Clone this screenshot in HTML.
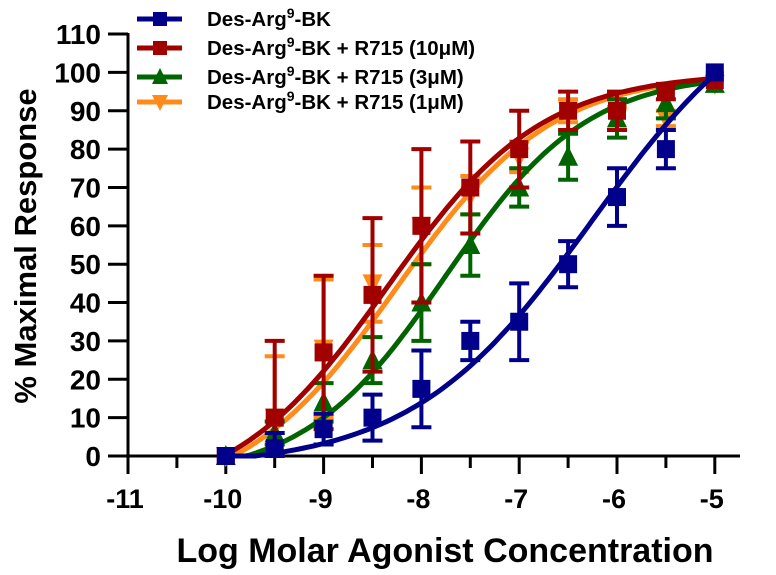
<!DOCTYPE html>
<html><head><meta charset="utf-8"><style>
body{margin:0;background:#fff}
svg text{font-family:"Liberation Sans",Arial,sans-serif;font-weight:bold;fill:#000}
</style></head><body>
<svg id="chart" width="776" height="570" xmlns="http://www.w3.org/2000/svg">
<g id="axes"></g>
<g id="plot"></g>
<g id="legend"></g>
<text transform="translate(36,246) rotate(-90)" text-anchor="middle" font-size="31">% Maximal Response</text>
<text x="445" y="562" text-anchor="middle" font-size="34">Log Molar Agonist Concentration</text>
</svg>
<script>
const xVals=[-10,-9.5,-9,-8.5,-8,-7.5,-7,-6.5,-6,-5.5,-5];
const blueY=[0,2,7,10,17.5,30,35,50,67.5,80,100];
const blueErr=[0,4,4,6,10,5,10,6,7.5,5,0];
const redY=[0,10,27,42,60,70,80,90,90,95,98];
const redErr=[0,20,20,20,20,12,10,5,5,2,0];
const greenY=[0,6,14,25,40,55,70,78,88,92,97];
const greenErr=[0,3,5,6,10,8,5,6,5,4,0];
const orangeY=[0,10,28,45,60,68,78,90,88,88,97];
const orangeErr=[0,16,18,10,10,5,4,3,3,2,0];
const fitEC50=[-6.25,-8.35,-7.75,-8.25];
const fitHill=[0.47,0.55,0.6,0.55];
const fitTop=[126,100,100,100];
const fitBottom=[-3,-12,-6,-12];
const names=["Des-Arg9-BK","Des-Arg9-BK + R715 (10\u03bcM)","Des-Arg9-BK + R715 (3\u03bcM)","Des-Arg9-BK + R715 (1\u03bcM)"];
const colors=["#00008b","#a00000","#006400","#ff8c1a"];
const xTicks=[-11,-10,-9,-8,-7,-6,-5];
const yTicks=[0,10,20,30,40,50,60,70,80,90,100,110];

const NS="http://www.w3.org/2000/svg";
const X=v=>128+(v+11)*97.8;
const Y=v=>456-v*3.836;
function mk(tag,attrs,parent){const e=document.createElementNS(NS,tag);for(const k in attrs)e.setAttribute(k,attrs[k]);parent.appendChild(e);return e;}
const axes=document.getElementById('axes'),plot=document.getElementById('plot'),leg=document.getElementById('legend');
let a=mk('line',{x1:X(-11),x2:740,y1:456,y2:456,stroke:'#000','stroke-width':3},axes);

a=mk('line',{x1:X(-11),x2:X(-11),y1:Y(110)-1,y2:457.5,stroke:'#000','stroke-width':3},axes);

for(let v=-11;v<=-5;v+=0.5){const t=mk('line',{x1:X(v),x2:X(v),y1:456,y2:Number.isInteger(v)?474:468,stroke:'#000','stroke-width':3},axes);
}
xTicks.forEach(v=>{const t=mk('text',{x:X(v)-3,y:508,'text-anchor':'middle','font-size':27},axes);t.textContent=String(v);
});
yTicks.forEach(v=>{const t=mk('line',{x1:X(-11)-20,x2:X(-11),y1:Y(v),y2:Y(v),stroke:'#000','stroke-width':3},axes);

const l=mk('text',{x:101,y:Y(v)+10,'text-anchor':'end','font-size':28},axes);l.textContent=v;
});
const series=[blueY,redY,greenY,orangeY],errs=[blueErr,redErr,greenErr,orangeErr];
function marker(type,cx,cy,c,parent,s){
 let e;
 if(type===0||type===1)e=mk('rect',{x:cx-s,y:cy-s,width:2*s,height:2*s,fill:c},parent);
 else if(type===2)e=mk('polygon',{points:`${cx},${cy-s-2} ${cx-s-1},${cy+s} ${cx+s+1},${cy+s}`,fill:c},parent);
 else e=mk('polygon',{points:`${cx},${cy+s+2} ${cx-s-1},${cy-s} ${cx+s+1},${cy-s}`,fill:c},parent);
 return e;}
const order=[3,2,1,0];
order.forEach(i=>{
 const g=mk('g',{},plot);
 let d='';for(let k=0;k<=100;k++){const x=-10+k*0.05;let y=fitBottom[i]+(fitTop[i]-fitBottom[i])/(1+Math.pow(10,fitHill[i]*(fitEC50[i]-x)));y=Math.max(0,y);d+=(k?'L':'M')+X(x).toFixed(1)+','+Y(y).toFixed(1);}
 const p=mk('path',{d,fill:'none',stroke:colors[i],'stroke-width':5},g);
 xVals.forEach((x,j)=>{const y=series[i][j],e=errs[i][j];
  if(e>0){const lo=Math.max(0,y-e);const eb=mk('path',{d:`M${X(x)},${Y(y+e)}V${Y(lo)}M${X(x)-10},${Y(y+e)}H${X(x)+10}M${X(x)-10},${Y(lo)}H${X(x)+10}`,stroke:colors[i],'stroke-width':4,fill:'none'},g);
  }
  const m=marker(i,X(x),Y(y),colors[i],g,9);});
});
const ly=[19,48,77,102];
names.forEach((n,i)=>{const g=mk('g',{},leg);
 mk('line',{x1:137,x2:182,y1:ly[i],y2:ly[i],stroke:colors[i],'stroke-width':5},g);
 marker(i,160,ly[i],colors[i],g,7);
 const t=mk('text',{x:207,y:ly[i]+7,'font-size':20.5},g);
 const parts=n.split('9');t.appendChild(document.createTextNode(parts[0]));
 const s=mk('tspan',{dy:-8,'font-size':14},t);s.textContent='9';
 const r=mk('tspan',{dy:8},t);r.textContent=parts[1];});
</script>
</body></html>
